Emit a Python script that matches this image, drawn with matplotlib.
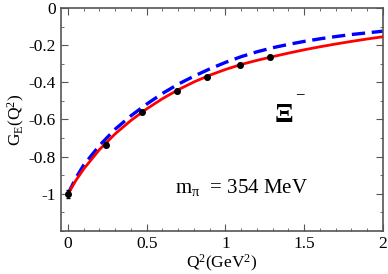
import matplotlib
matplotlib.use("Agg")
import matplotlib.pyplot as plt
from matplotlib.ticker import MultipleLocator

plt.rcParams['font.family'] = ['Liberation Serif', 'DejaVu Serif']
plt.rcParams['mathtext.fontset'] = 'custom'
plt.rcParams['mathtext.rm'] = 'Liberation Serif'
plt.rcParams['mathtext.it'] = 'Liberation Serif'

# lattice data points
q2_data = [0.0, 0.24, 0.468, 0.69, 0.885, 1.09, 1.28]
ge_data = [-1.0, -0.735, -0.561, -0.445, -0.372, -0.306, -0.264]
ge_err = [0.02, 0.015, 0.012, 0.01, 0.01, 0.01, 0.01]

# red solid curve
q2_curve = [0.0, 0.05, 0.1, 0.2, 0.3, 0.4, 0.5, 0.6, 0.7, 0.8, 0.9, 1.0,
            1.1, 1.2, 1.3, 1.4, 1.5, 1.6, 1.7, 1.8, 1.9, 2.0]
ge_red = [-1.0, -0.928, -0.866, -0.762, -0.677, -0.605, -0.543, -0.488,
          -0.44, -0.398, -0.362, -0.331, -0.304, -0.282, -0.262, -0.243,
          -0.225, -0.209, -0.194, -0.18, -0.167, -0.155]
# blue dashed curve
ge_blue = [-1.0, -0.915, -0.845, -0.74, -0.652, -0.58, -0.517, -0.46,
           -0.41, -0.367, -0.328, -0.293, -0.262, -0.236, -0.214, -0.196,
           -0.18, -0.166, -0.154, -0.143, -0.134, -0.125]

fig = plt.figure(figsize=(3.88, 2.74), dpi=100)
ax = fig.add_axes([0.157, 0.157, 0.83, 0.814])

ax.plot(q2_curve, ge_red, color='#ff0000', lw=2.0, zorder=3)
ax.plot(q2_curve, ge_blue, color='#0000ff', lw=2.4, ls=(0, (4, 2)), zorder=2)
ax.errorbar(q2_data, ge_data, yerr=ge_err, fmt='o', color='black', ms=4,
            capsize=1.5, elinewidth=1, zorder=4)

ax.set_xlim(-0.045, 2.0)
ax.set_ylim(-1.2, 0.0)
ax.xaxis.set_major_locator(MultipleLocator(0.5))
ax.xaxis.set_minor_locator(MultipleLocator(0.1))
ax.yaxis.set_major_locator(MultipleLocator(0.2))
ax.yaxis.set_minor_locator(MultipleLocator(0.1))
ax.set_xticks([0, 0.5, 1, 1.5, 2])
ax.set_xticklabels(['0', '0.5', '1', '1.5', '2'])
ax.set_yticks([0, -0.2, -0.4, -0.6, -0.8, -1])
ax.set_yticklabels(['0', '-0.2', '-0.4', '-0.6', '-0.8', '-1'])
ax.tick_params(which='both', direction='in', top=True, right=True,
               labelsize=12.5, color='#555555')
ax.tick_params(which='major', length=5)
ax.tick_params(which='minor', length=2.5)
for s in ax.spines.values():
    s.set_color('#555555')
    s.set_linewidth(1.2)

ax.set_xlabel(r'Q$^2$(GeV$^2$)', fontsize=12.5, labelpad=1)
ax.set_ylabel(r'G$_\mathrm{E}$(Q$^2$)', fontsize=12.5, labelpad=1)

ax.text(1.37, -0.613, '\u039e', fontsize=20, fontweight='bold',
        ha='center', va='baseline')
ax.text(1.47, -0.468, '\u2212', fontsize=12, ha='center', va='center')
ax.text(0.68, -0.995, r'm$_\pi$  = 354 MeV', fontsize=15, ha='left',
        va='baseline')

fig.savefig('out.png', dpi=100)
